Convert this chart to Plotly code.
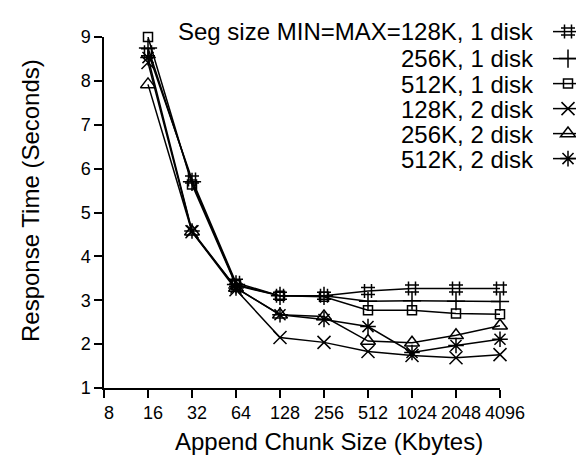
import plotly.graph_objects as go

chunk_kb = [16, 32, 64, 128, 256, 512, 1024, 2048, 4096]
tick_vals = [8, 16, 32, 64, 128, 256, 512, 1024, 2048, 4096]
tick_text = ["8", "16", "32", "64", "128", "256", "512", "1024", "2048", "4096"]

seg128_1disk = [8.65, 5.75, 3.40, 3.10, 3.10, 3.21, 3.27, 3.27, 3.27]
seg256_1disk = [8.75, 5.70, 3.36, 3.10, 3.10, 2.98, 2.99, 2.98, 2.97]
seg512_1disk = [9.00, 5.64, 3.34, 3.10, 3.08, 2.77, 2.77, 2.70, 2.68]
seg128_2disk = [8.42, 4.56, 3.24, 2.15, 2.04, 1.83, 1.74, 1.69, 1.76]
seg256_2disk = [7.92, 4.56, 3.28, 2.67, 2.63, 2.07, 2.03, 2.20, 2.42]
seg512_2disk = [8.53, 4.58, 3.28, 2.67, 2.56, 2.40, 1.81, 1.97, 2.11]

names = ["Seg size MIN=MAX=128K, 1 disk", "256K, 1 disk", "512K, 1 disk",
         "128K, 2 disk", "256K, 2 disk", "512K, 2 disk"]
series = [seg128_1disk, seg256_1disk, seg512_1disk, seg128_2disk, seg256_2disk, seg512_2disk]
symbols = ["hash-open", "cross-thin-open", "square-open", "x-thin-open", "triangle-up-open", "asterisk-open"]
sizes = [14, 13, 9, 13, 13, 13]

FONT = "Liberation Sans, Arial, Helvetica, sans-serif"
W, H = 584, 455
L, R, T, B = 96, 92, 29, 75
PW, PH = W - L - R, H - T - B

def px_x(p):
    return (p - L) / PW

def px_y(p):
    return (H - B - p) / PH

row_y = [24, 51, 76, 101, 126, 151]

fig = go.Figure()
for i, (nm, ys, sym, sz) in enumerate(zip(names, series, symbols, sizes)):
    lg = "legend" if i == 0 else f"legend{i+1}"
    fig.add_trace(go.Scatter(
        x=chunk_kb, y=ys, mode="lines+markers", name=" ",
        line=dict(color="black", width=1.5),
        marker=dict(symbol=sym, size=sz, color="black",
                    line=dict(color="black", width=1.5)),
        cliponaxis=False, legend=lg, showlegend=True,
    ))

layout = dict(
    width=W, height=H,
    margin=dict(l=L, r=R, t=T, b=B, autoexpand=False),
    paper_bgcolor="white", plot_bgcolor="white",
    font=dict(family=FONT, color="black", size=18),
    xaxis=dict(type="log", range=[0.90309, 3.61236], tickvals=tick_vals, ticktext=tick_text,
               showgrid=False, zeroline=False, showline=True, linecolor="black", linewidth=1.5,
               ticks="outside", ticklen=8, tickwidth=1.5, tickcolor="black",
               tickfont=dict(size=18), ticklabelshift=5),
    yaxis=dict(range=[1, 9], tick0=1, dtick=1, showgrid=False, zeroline=False,
               showline=True, linecolor="black", linewidth=1.5,
               ticks="outside", ticklen=8, tickwidth=1.5, tickcolor="black",
               tickfont=dict(size=18)),
    xaxis2=dict(type="log", range=[0.90309, 3.61236], tickvals=tick_vals, overlaying="x",
                anchor="y", side="bottom", showticklabels=False, showgrid=False, zeroline=False,
                ticks="inside", ticklen=8, tickwidth=1.5, tickcolor="black", showline=False),
    yaxis2=dict(range=[1, 9], tick0=1, dtick=1, overlaying="y", anchor="x", side="left",
                showticklabels=False, showgrid=False, zeroline=False,
                ticks="inside", ticklen=8, tickwidth=1.5, tickcolor="black", showline=False),
    showlegend=True,
)
for i in range(6):
    key = "legend" if i == 0 else f"legend{i+1}"
    layout[key] = dict(x=px_x(540), xanchor="left", y=px_y(row_y[i]), yanchor="middle",
                       bgcolor="rgba(0,0,0,0)", borderwidth=0,
                       font=dict(size=14, family=FONT), itemwidth=30)
fig.update_layout(**layout)

annotations = []
for i, nm in enumerate(names):
    annotations.append(dict(text=nm, xref="paper", yref="paper", x=px_x(528), y=px_y(row_y[i]),
                            xanchor="right", yanchor="middle", showarrow=False,
                            font=dict(size=24, family=FONT, color="black")))
annotations.append(dict(text="Append Chunk Size (Kbytes)", xref="paper", yref="paper",
                        x=px_x(321), y=px_y(434), xanchor="center", yanchor="middle",
                        showarrow=False, font=dict(size=24, family=FONT, color="black")))
annotations.append(dict(text="Response Time (Seconds)", xref="paper", yref="paper",
                        x=px_x(22), y=px_y(193), xanchor="center", yanchor="middle",
                        textangle=-90, showarrow=False,
                        font=dict(size=24, family=FONT, color="black")))
fig.update_layout(annotations=annotations)

fig.write_html("out.html")
